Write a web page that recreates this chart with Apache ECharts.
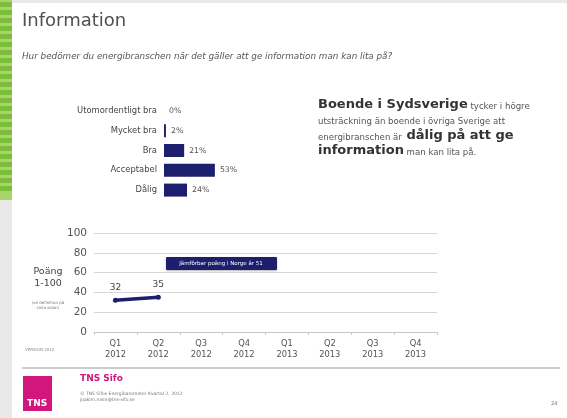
<!DOCTYPE html>
<html>
<head>
<meta charset="utf-8">
<script src="https://cdn.jsdelivr.net/npm/echarts@6/dist/echarts.min.js"></script>
<style>
  html, body { margin: 0; padding: 0; background: #e9e9e9; }
  #chart { width: 567px; height: 418px; }
</style>
</head>
<body>
<div id="chart"></div>
<script>
// betyg (stapeldiagram)
var ratingLabels = ['Utomordentligt bra', 'Mycket bra', 'Bra', 'Acceptabel', 'Dålig']
var ratingShare = [0, 2, 21, 53, 24]

// poäng per kvartal
var quarters = ['Q1\n2012', 'Q2\n2012', 'Q3\n2012', 'Q4\n2012', 'Q1\n2013', 'Q2\n2013', 'Q3\n2013', 'Q4\n2013']
var scoreValues = [32, 35, null, null, null, null, null, null]
var scoreTicks = [0, 20, 40, 60, 80, 100]

var navy = '#1b1f6e'
var font = 'DejaVu Sans'

// grön remsa till vänster
var stripes = []
for (var i = 0; i < 24; i++) {
    stripes.push({
        type: 'rect',
        shape: { x: 0, y: 2 + i * 8, width: 12, height: 5 },
        style: { fill: '#7cbd3a' },
        silent: true
    })
}

var chart = echarts.init(document.getElementById('chart'))
chart.setOption({
    backgroundColor: '#e9e9e9',
    textStyle: { fontFamily: font },
    animation: false,
    graphic: [
        // vita bilden
        { type: 'rect', z: -10, shape: { x: 12, y: 3, width: 555, height: 415 }, style: { fill: '#ffffff' }, silent: true },
        { type: 'rect', z: -10, shape: { x: 0, y: 0, width: 12, height: 200 }, style: { fill: '#a8d46a' }, silent: true }
    ].concat(stripes).concat([
        { type: 'text', left: 22, top: 12, style: { text: 'Information', font: '18px "DejaVu Sans"', fill: '#505050' } },
        { type: 'text', left: 22, top: 52, style: { text: 'Hur bedömer du energibranschen när det gäller att ge information man kan lita på?', font: 'italic 8.8px "DejaVu Sans"', fill: '#555' } },
        // textruta höger
        {
            type: 'text', left: 318, top: 98,
            style: {
                text: '{b|Boende i Sydsverige}{s| tycker i högre}\n{s|utsträckning än boende i övriga Sverige att}\n{s|energibranschen är}{b| dålig på att ge}\n{b|information}{s| man kan lita på.}',
                fill: '#333',
                rich: {
                    b: { font: 'bold 13px "DejaVu Sans"', fill: '#333', lineHeight: 15.5, verticalAlign: 'bottom' },
                    s: { font: '8.6px "DejaVu Sans"', fill: '#555', lineHeight: 15.5, verticalAlign: 'bottom' }
                }
            }
        },
        // y-axelns rubrik
        { type: 'text', x: 48, y: 266, style: { text: 'Poäng\n1-100', font: '9.5px "DejaVu Sans"', fill: '#444', align: 'center', lineHeight: 12 } },
        { type: 'text', x: 48, y: 300, style: { text: '(se definition på\nsista sidan)', font: '4px "DejaVu Sans"', fill: '#777', align: 'center', lineHeight: 5 } },
        { type: 'text', left: 25, top: 348, style: { text: 'VERSION 2012', font: '4px "DejaVu Sans"', fill: '#888' } },
        // kommentar
        {
            type: 'group', left: 166, top: 257,
            children: [
                { type: 'rect', shape: { x: 0, y: 0, width: 111, height: 13, r: 1 }, style: { fill: navy, shadowColor: 'rgba(0,0,0,0.3)', shadowBlur: 2, shadowOffsetY: 1 } },
                { type: 'text', style: { x: 55, y: 6.5, text: 'Jämförbar poäng i Norge är 51', font: '5.5px "DejaVu Sans"', fill: '#fff', align: 'center', verticalAlign: 'middle' } }
            ]
        },
        // sidfot
        { type: 'line', shape: { x1: 22, y1: 368, x2: 560, y2: 368 }, style: { stroke: '#999', lineWidth: 1 } },
        { type: 'rect', shape: { x: 23, y: 376, width: 29, height: 35 }, style: { fill: '#d2167c' } },
        { type: 'text', left: 27, top: 399, style: { text: 'TNS', font: 'bold 9px "DejaVu Sans"', fill: '#fff' } },
        { type: 'text', left: 80, top: 374, style: { text: 'TNS Sifo', font: 'bold 9px "DejaVu Sans"', fill: '#d2167c' } },
        { type: 'text', left: 80, top: 391, style: { text: '© TNS Sifos Energibarometer Kvartal 2, 2012\njoakim.rosin@tns-sifo.se', font: '4.5px "DejaVu Sans"', fill: '#777', lineHeight: 6 } },
        { type: 'text', left: 551, top: 401, style: { text: '24', font: '5px "DejaVu Sans"', fill: '#777' } }
    ]),
    grid: [
        { left: 164, top: 101, width: 96, height: 99 },
        { left: 94, right: 130, top: 233, height: 99 }
    ],
    xAxis: [
        {
            gridIndex: 0, type: 'value', min: 0, max: 100,
            show: false
        },
        {
            gridIndex: 1, type: 'category', data: quarters,
            axisLine: { lineStyle: { color: '#c8c8c8' } },
            axisTick: { show: true, length: 3, lineStyle: { color: '#c8c8c8' } },
            axisLabel: { color: '#555', fontSize: 8.3, lineHeight: 11, margin: 6 }
        }
    ],
    yAxis: [
        {
            gridIndex: 0, type: 'category', data: ratingLabels, inverse: true,
            axisLine: { show: false },
            axisTick: { show: false },
            axisLabel: { color: '#444', fontSize: 8.4, margin: 7 }
        },
        {
            gridIndex: 1, type: 'value', min: scoreTicks[0], max: scoreTicks[scoreTicks.length - 1], interval: 20,
            axisLine: { show: false },
            axisTick: { show: false },
            axisLabel: { color: '#555', fontSize: 10.5, margin: 7 },
            splitLine: { lineStyle: { color: '#d6d6d6' } }
        }
    ],
    series: [
        {
            type: 'bar', xAxisIndex: 0, yAxisIndex: 0,
            data: ratingShare,
            barWidth: 13,
            itemStyle: { color: navy },
            label: { show: true, position: 'right', formatter: '{c}%', color: '#555', fontSize: 7.8, distance: 5 }
        },
        {
            type: 'line', xAxisIndex: 1, yAxisIndex: 1,
            data: scoreValues,
            symbol: 'circle', symbolSize: 5,
            lineStyle: { color: navy, width: 3.5, cap: 'round' },
            itemStyle: { color: navy },
            label: { show: true, position: 'top', color: '#444', fontSize: 9, distance: 6 }
        }
    ]
})
</script>
</body>
</html>
